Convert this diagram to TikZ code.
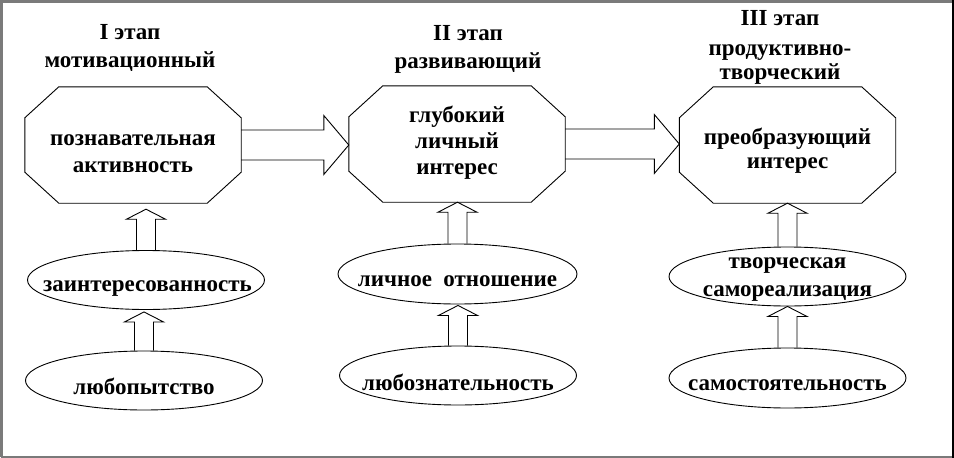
\documentclass[tikz,border=0pt]{standalone}
\usepackage{fontspec}
\setmainfont{Liberation Serif}
\usetikzlibrary{calc,shapes.geometric}
\tikzset{
  txt/.style={font=\fontsize{23}{28}\selectfont\bfseries, align=center, inner sep=0pt},
  octbox/.style={rectangle, draw=none, minimum width=216pt, minimum height=116pt, inner sep=0pt},
  ellbox/.style={ellipse, draw, line width=0.9pt, minimum width=237pt, minimum height=59pt, inner sep=0pt},
  outline/.style={draw, line width=0.9pt, line join=miter},
  hollow/.style={draw, line width=0.9pt, line join=miter},
  framegray/.style={draw=black!52, line width=2.6pt},
  frameblack/.style={draw=black, line width=1.6pt}
}
\newcommand\octoutline[1]{%
  \draw[outline] ([xshift=34pt]#1.north west) -- ([xshift=-34pt]#1.north east)
    -- ([yshift=-31pt]#1.north east) -- ([yshift=31pt]#1.south east)
    -- ([xshift=-34pt]#1.south east) -- ([xshift=34pt]#1.south west)
    -- ([yshift=31pt]#1.south west) -- ([yshift=-31pt]#1.north west) -- cycle;}
\newcommand\harrow[2]{%
  \draw[hollow] let \p1=(#1.east), \p2=(#2.west) in
    (\x1,\y1+15pt) -- (\x2-25pt,\y1+15pt) -- (\x2-25pt,\y1+29.5pt) -- (\x2,\y1)
    -- (\x2-25pt,\y1-29.5pt) -- (\x2-25pt,\y1-15pt) -- (\x1,\y1-15pt);}
\newcommand\varrow[3]{%
  \draw[hollow] let \p1=(#1.north), \p2=(#2.south) in
    (\x1-9.5pt,\y1) -- (\x1-9.5pt,\y2-#3-10pt) -- (\x1-19.5pt,\y2-#3-10pt) -- (\x1,\y2-#3)
    -- (\x1+19.5pt,\y2-#3-10pt) -- (\x1+9.5pt,\y2-#3-10pt) -- (\x1+9.5pt,\y1);}
\begin{document}
\begin{tikzpicture}[x=1pt,y=-1pt]
\useasboundingbox (0,0) rectangle (954,458);
% frame
\draw[framegray] (1.3,457) -- (1.3,1.3) -- (953,1.3);
\draw[framegray] (1.3,456.8) -- (953,456.8);
\draw[frameblack] (952.9,0) -- (952.9,458);
% titles
\node[txt, font=\fontsize{23}{28.5}\selectfont\bfseries] (t1) at (130,48.2) {I этап\\мотивационный};
\node[txt] (t2) at (468,49.4) {II этап\\развивающий};
\node[txt, font=\fontsize{23}{24.5}\selectfont\bfseries] (t3) at (780,47.2) {III этап\\[5.5pt]продуктивно-\\творческий};
% octagons
\node[octbox, label={[txt, font=\fontsize{23}{26.7}\selectfont\bfseries, yshift=-9pt]center:{познавательная\\активность}}] (o1) at (133,145) {};
\node[octbox, label={[txt, font=\fontsize{23}{26}\selectfont\bfseries, yshift=1.7pt]center:{глубокий\\личный\\интерес}}] (o2) at (457,144) {};
\node[octbox, label={[txt, font=\fontsize{23}{23.8}\selectfont\bfseries, yshift=-5.5pt]center:{преобразующий\\интерес}}] (o3) at (787.5,145) {};
\octoutline{o1}
\octoutline{o2}
\octoutline{o3}
% ellipses
\node[ellbox, label={[txt, anchor=base, yshift=-8.3pt, xshift=1.5pt]center:заинтересованность}] (e1) at (146,280) {};
\node[ellbox, label={[txt, anchor=base, yshift=-5.5pt]center:любопытство}] (e2) at (144,380.5) {};
\node[ellbox, minimum width=239pt, minimum height=60pt, label={[txt, anchor=base, yshift=-6.7pt]center:личное\ \ отношение}] (e3) at (457.5,274) {};
\node[ellbox, label={[txt, anchor=base, yshift=-6.8pt]center:любознательность}] (e4) at (458,375.5) {};
\node[ellbox, label={[txt, font=\fontsize{23}{27.7}\selectfont\bfseries, yshift=-2.8pt]center:{творческая\\самореализация}}] (e5) at (787.5,276.5) {};
\node[ellbox, minimum height=60pt, label={[txt, anchor=base, yshift=-7pt]center:самостоятельность}] (e6) at (787.5,378) {};
% big arrows
\harrow{o1}{o2}
\harrow{o2}{o3}
% small arrows
\varrow{e1}{o1}{6pt}
\varrow{e2}{e1}{2pt}
\varrow{e3}{o2}{0pt}
\varrow{e4}{e3}{1pt}
\varrow{e5}{o3}{0pt}
\varrow{e6}{e5}{0pt}
\end{tikzpicture}
\end{document}
